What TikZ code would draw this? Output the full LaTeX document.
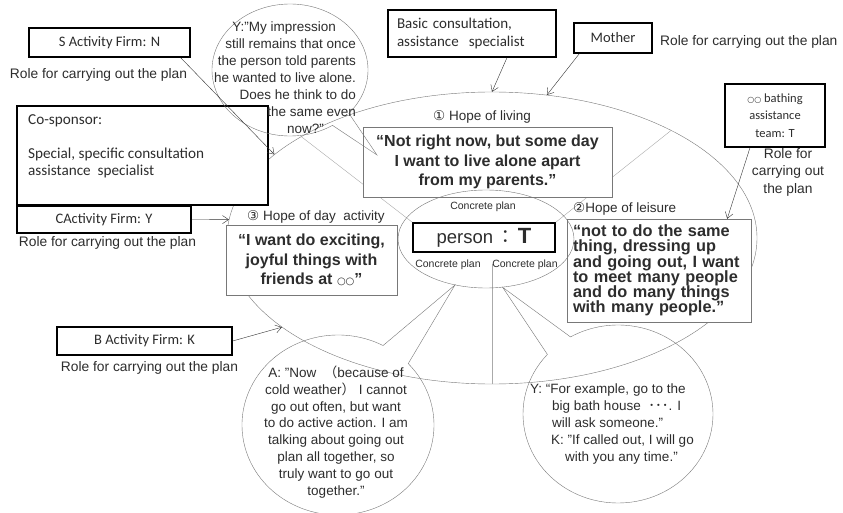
\documentclass[tikz,border=0pt]{standalone}
\usepackage{fontspec}
\setmainfont{Liberation Sans}
\newfontfamily\boxfont{Carlito}
\newfontfamily\symfont{DejaVu Sans}
\newfontfamily\cjkfont{Noto Sans CJK JP}
\usetikzlibrary{shapes.geometric, arrows.meta, positioning}
\definecolor{txtgray}{RGB}{45,45,45}
\definecolor{linegray}{RGB}{120,120,120}
\definecolor{divgray}{RGB}{170,170,170}

\begin{document}
\begin{tikzpicture}[x=10pt, y=10pt,
  firm/.style={draw, line width=1.3pt, fill=white, font=\boxfont\fontsize{14.5}{16}\selectfont, text=txtgray, inner sep=0pt},
  hope/.style={draw=linegray, fill=white, font=\bfseries\fontsize{16}{19.5}\selectfont, text=txtgray, align=center, inner sep=0pt},
  role/.style={font=\fontsize{13.8}{16}\selectfont, text=txtgray, inner sep=0pt},
  hopelabel/.style={font=\fontsize{13.5}{16}\selectfont, text=txtgray, inner sep=0pt},
  plan/.style={font=\fontsize{10.5}{12}\selectfont, text=txtgray, inner sep=0pt},
  talk/.style={font=\fontsize{13.5}{16.9}\selectfont, text=txtgray, inner sep=0pt},
  bubble/.style={draw=linegray, thin},
  divider/.style={draw=divgray, thin},
  rolearrow/.style={-{Straight Barb[length=6pt,width=8pt]}, thin, color=black!80}
]
  \fill[white] (0,0) rectangle (84.3,-51.3);
  \useasboundingbox (0,0) rectangle (84.3,-51.3);

  % the whole plan and the person in the middle
  \node[ellipse, draw=linegray, minimum width=530pt, minimum height=292pt, inner sep=0pt] (plan) at (49.2,-23.8) {};
  \node[draw, line width=1.6pt, fill=white, minimum width=142pt, minimum height=29pt, inner sep=0pt, text=txtgray] (person) at (48.4,-23.75) {\fontsize{18.5}{20}\selectfont person\,{\cjkfont ：}\,\textbf{\fontsize{22}{22}\selectfont T}};
  \coordinate (vtop) at (49.2,-26.4);
  \draw[divider] (plan.152) -- (person.north west);
  \draw[divider] (plan.31) -- (person.north east);
  \draw[divider] (vtop) -- (plan.south);

  % three hopes
  \node[hope, minimum width=249pt, minimum height=70pt] (living) at (48.75,-16.2) {“Not right now, but some day\\ I want to live alone apart\\ from my parents.”};
  \node[hope, minimum width=171pt, minimum height=70pt] (dayact) at (31.15,-26.0) {“I want do exciting,\\ joyful things with\\ friends at {\mdseries\symfont\fontsize{10}{10}\selectfont ○○}”};
  \node[hope, minimum width=184pt, minimum height=103pt, text width=172pt, align=left, font=\bfseries\fontsize{16.3}{15.3}\selectfont] (leisure) at (65.9,-27.05) {“not to do the same\\ thing, dressing up\\ and going out, I want\\ to meet many people\\ and do many things\\ with many people.”};
  \node[hopelabel] (livinglbl) at (48.2,-11.7) {{\symfont ①} Hope of living};
  \node[hopelabel, anchor=west] (daylbl) at (24.7,-21.7) {{\symfont ③} Hope of day\ \ activity};
  \node[hopelabel, anchor=west] (leisurelbl) at (57.3,-20.9) {{\symfont ②}Hope of leisure};

  \node[ellipse, draw=linegray, minimum width=176pt, minimum height=98pt, inner sep=0pt] (core) at (48.6,-23.9) {};
  \node[plan] (plantop) at (48.3,-20.7) {Concrete plan};
  \node[plan] (planleft) at (44.8,-26.5) {Concrete plan};
  \node[plan] (planright) at (52.5,-26.5) {Concrete plan};

  % roles around the plan
  \node[firm, minimum width=168pt, minimum height=47pt, text width=150pt, align=left, font=\boxfont\fontsize{15}{18}\selectfont] (basic) at (47.2,-3.35) {Basic consultation,\\ assistance\ \ specialist};
  \node[firm, minimum width=78pt, minimum height=30pt] (mother) at (61.3,-3.8) {Mother};
  \node[role, anchor=west] (motherrole) at (66.0,-4.2) {Role for carrying out the plan};
  \node[firm, minimum width=100pt, minimum height=63pt, align=center, font=\boxfont\fontsize{12.5}{17.5}\selectfont] (bathteam) at (77.5,-11.55) {{\symfont\fontsize{8}{8}\selectfont ○○} bathing\\ assistance\\ team: T};
  \node[role, align=center, font=\fontsize{13.8}{17.5}\selectfont] (bathrole) at (78.8,-17.2) {Role for\\ carrying out\\ the plan};
  \node[firm, minimum width=161pt, minimum height=29pt] (sfirm) at (10.95,-4.25) {S Activity Firm: N};
  \node[role] (srole) at (9.85,-7.5) {Role for carrying out the plan};
  \node[firm, line width=2pt, minimum width=251pt, minimum height=99pt] (cosponsor) at (14.25,-15.55) {};
  \node[anchor=north west, align=left, inner sep=0pt, font=\boxfont\fontsize{15.2}{16.5}\selectfont, text=txtgray] (cosptext) at (2.8,-11.4) {Co-sponsor:\\[18pt] Special, specific consultation\\ assistance\ \ specialist};
  \node[firm, minimum width=174pt, minimum height=27pt] (cfirm) at (10.4,-21.95) {CActivity Firm: Y};
  \node[role] (crole) at (10.75,-24.3) {Role for carrying out the plan};
  \node[firm, minimum width=175pt, minimum height=28pt] (bfirm) at (14.45,-34.1) {B Activity Firm: K};
  \node[role] (brole) at (14.95,-36.8) {Role for carrying out the plan};

  % what was said
  \coordinate (ybub) at (29.0,-7.0);
  \coordinate (ytip) at (37.7,-15.5);
  \draw[bubble] (ytip) -- ([shift={(-41:7.8 and 6.6)}]ybub) arc[start angle=-41, end angle=303, x radius=7.8, y radius=6.6] -- cycle;
  \node[talk, align=right] (ybubtext) at (28.5,-7.75) {Y:"My impression\hspace*{20pt}\\ still remains that once\\ the person told parents\\ he wanted to live alone.\\ Does he think to do\\ the same even\\ now?"\hspace*{32pt}};
  \coordinate (abub) at (33.8,-42.5);
  \draw[bubble] (core.236) -- ([shift={(62:9.6 and 9.0)}]abub) arc[start angle=62, end angle=403, x radius=9.6, y radius=9.0] -- cycle;
  \node[talk, align=center] (abubtext) at (33.6,-43.2) {A: "Now\ \ {\cjkfont （}because of\\ cold weather{\cjkfont ）}\ I cannot\\ go out often, but want\\ to do active action. I am\\ talking about going out\\ plan all together, so\\ truly want to go out\\ together."};
  \coordinate (kbub) at (61.8,-41.4);
  \draw[bubble] (core.289) -- ([shift={(138:9.5 and 8.9)}]kbub) arc[start angle=138, end angle=480, x radius=9.5, y radius=8.9] -- cycle;
  \node[talk, align=left] (kbubtext) at (61.2,-42.4) {Y: “For example, go to the\\ \hspace*{22pt}big bath house\ \ {\cjkfont ･･･}. I\\ \hspace*{22pt}will ask someone."\\ \hspace*{21pt}K: "If called out, I will go\\ \hspace*{35pt}with you any time."};

  % who takes which role
  \draw[rolearrow] ([xshift=-10pt]sfirm.south east) -- (plan.159);
  \draw[rolearrow] (cfirm.east) -- (plan.176);
  \draw[rolearrow] (bfirm.east) -- (plan.203);
  \draw[rolearrow] ([xshift=35pt]basic.south) -- (plan.north);
  \draw[rolearrow] ([xshift=6pt]mother.south west) -- (plan.69);
  \draw[rolearrow] ([xshift=-25pt]bathteam.south) -- ([xshift=-24pt]leisure.north east);
\end{tikzpicture}
\end{document}
